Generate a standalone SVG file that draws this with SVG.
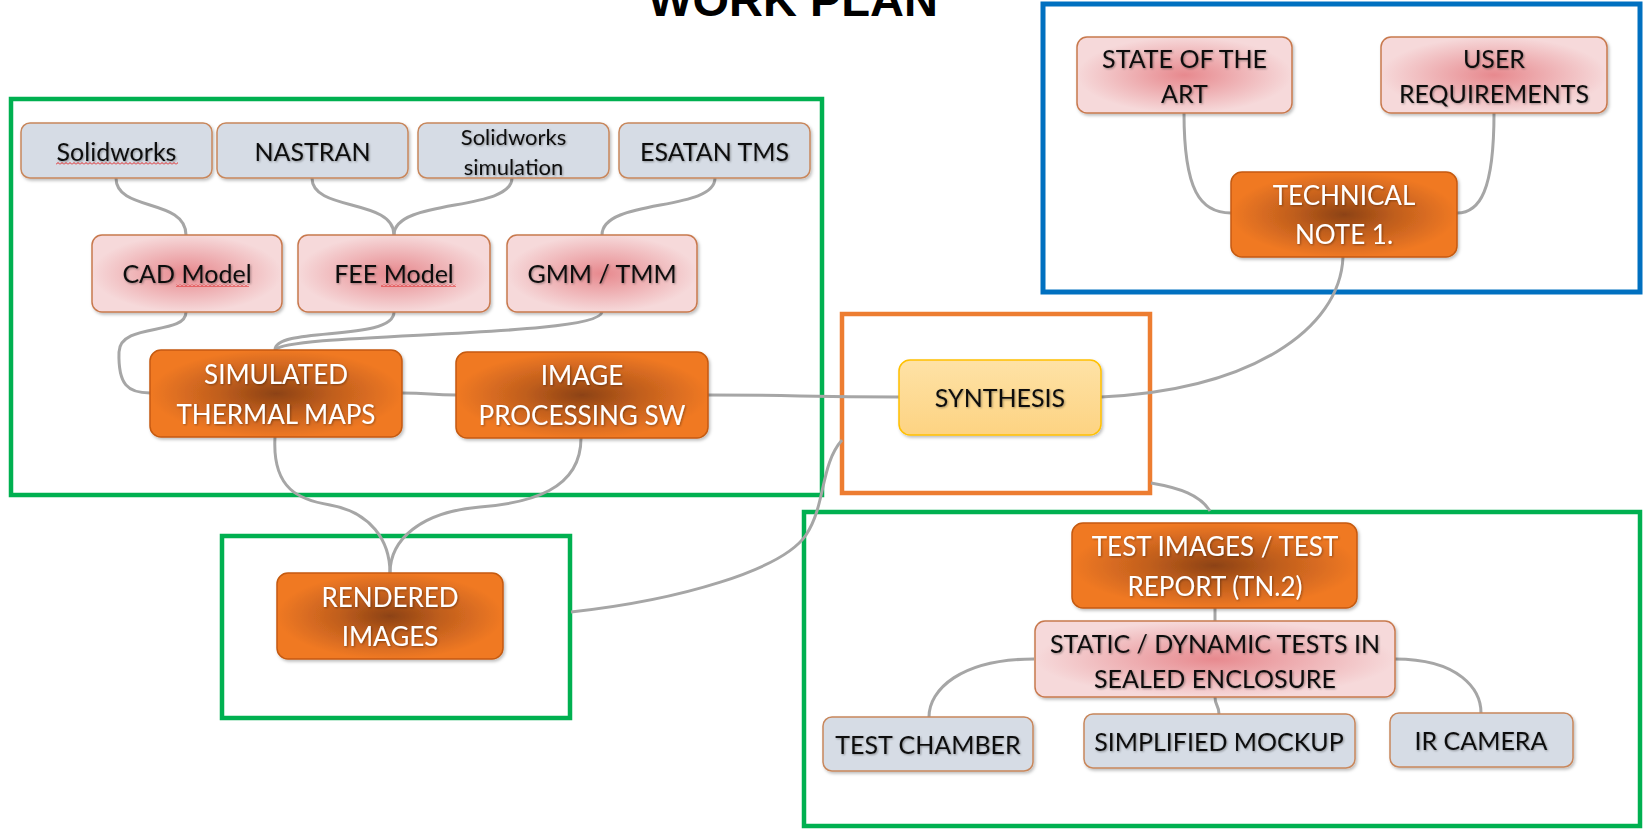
<svg xmlns="http://www.w3.org/2000/svg" width="1644" height="830" viewBox="0 0 1644 830">
  <defs>
    <radialGradient id="gOrange" cx="0.5" cy="0.5" r="0.5">
      <stop offset="0" stop-color="#8c4213"/>
      <stop offset="0.45" stop-color="#c05e1d"/>
      <stop offset="1" stop-color="#f07924"/>
    </radialGradient>
    <radialGradient id="gPink" cx="0.5" cy="0.5" r="0.5">
      <stop offset="0" stop-color="#e7898e"/>
      <stop offset="1" stop-color="#f6d9da"/>
    </radialGradient>
    <linearGradient id="gYellow" x1="0" y1="0" x2="0" y2="1">
      <stop offset="0" stop-color="#fee2a6"/>
      <stop offset="1" stop-color="#fdd382"/>
    </linearGradient>
    <filter id="shadow" x="-10%" y="-10%" width="125%" height="130%">
      <feDropShadow dx="1.5" dy="2" stdDeviation="1.5" flood-color="#000" flood-opacity="0.25"/>
    </filter>
    <filter id="txtShadow" x="-5%" y="-20%" width="115%" height="150%">
      <feDropShadow dx="1" dy="1" stdDeviation="0.8" flood-color="#000" flood-opacity="0.35"/>
    </filter>
    <pattern id="squiggle" width="4" height="3" patternUnits="userSpaceOnUse">
      <path d="M0,2.5 L2,0.5 L4,2.5" fill="none" stroke="#e02020" stroke-width="1"/>
    </pattern>
    <style>
      .frame { fill: none; }
      .green { stroke: #00b050; stroke-width: 4.5; }
      .blue { stroke: #0070c0; stroke-width: 5; }
      .orangeFrame { stroke: #ed7d31; stroke-width: 4.5; }
      .node .box { filter: url(#shadow); }
      .gray .box { fill: #d6dce5; stroke: #c8875c; stroke-width: 1.5; }
      .pink .box { fill: url(#gPink); stroke: #c8794e; stroke-width: 1.5; }
      .orange .box { fill: url(#gOrange); stroke: #c55a11; stroke-width: 1.5; }
      .yellow .box { fill: url(#gYellow); stroke: #ffc000; stroke-width: 1.5; }
      .spell { fill: url(#squiggle); stroke: none; }
      text { font-family: Lato, "Liberation Sans", sans-serif; font-size: 25px; text-anchor: middle; dominant-baseline: central; }
      .gray text, .pink text, .yellow text { fill: #111; filter: url(#txtShadow); }
      .orange text { fill: #fff; font-size: 26px; filter: url(#txtShadow); }
      .small { font-size: 22px; }
      .title { font-family: "Liberation Sans", Arial, sans-serif; font-weight: bold; font-size: 47px; fill: #000; dominant-baseline: alphabetic; }
      .links path { fill: none; stroke: #a6a6a6; stroke-width: 3; }
    </style>
  </defs>

  <rect width="1644" height="830" fill="#fff"/>

  <text class="title" x="793" y="16">WORK PLAN</text>

  <!-- group frames -->
  <g id="frames">
    <rect class="frame green" x="11" y="99" width="811" height="396"/>
    <rect class="frame green" x="222" y="536" width="348" height="182"/>
    <rect class="frame blue" x="1043" y="4" width="597" height="288"/>
    <rect class="frame orangeFrame" x="842" y="314" width="308" height="179"/>
    <rect class="frame green" x="804" y="512" width="836" height="314"/>
  </g>

  <!-- connectors -->
  <g id="connectors" class="links">
    <path d="M116,178 C116,212 186,198 186,235"/>
    <path d="M312,178 C312,212 394,198 394,235"/>
    <path d="M512,178 C512,212 394,198 394,235"/>
    <path d="M715,178 C715,212 602,198 602,235"/>
    <path d="M186,312 C186,336 120,322 119,352 C118,385 128,393 150,393"/>
    <path d="M394,312 C394,342 275,326 275,350"/>
    <path d="M602,312 C598,338 290,332 275,350"/>
    <path d="M402,393 C430,393 430,395 456,395"/>
    <path d="M708,395 C800,395 800,397 899,397"/>
    <path d="M275,437 C272,490 300,500 330,505 C370,512 390,540 390,573"/>
    <path d="M581,438 C581,490 530,503 480,507 C420,512 390,540 390,573"/>
    <path d="M571,612 C680,600 782,570 806,535 C826,505 820,465 842,440"/>
    <path d="M1151,483 C1180,488 1200,495 1210,511"/>
    <path d="M1343,257 C1340,330 1250,390 1101,397"/>
    <path d="M1184,113 C1184,190 1200,213 1231,213"/>
    <path d="M1494,113 C1494,190 1480,213 1457,213"/>
    <path d="M1215,608 L1215,621"/>
    <path d="M1034,659 C960,659 929,690 929,717"/>
    <path d="M1215,697 C1215,706 1219,705 1219,714"/>
    <path d="M1395,659 C1460,659 1481,690 1481,713"/>
  </g>

  <!-- tools row -->
  <g id="solidworks" class="node gray">
    <rect class="box" x="21" y="123" width="191" height="55" rx="9"/>
    <text x="116.5" y="151">Solidworks</text>
    <rect class="spell" x="56" y="162" width="122" height="3"/>
  </g>
  <g id="nastran" class="node gray">
    <rect class="box" x="217" y="123" width="191" height="55" rx="9"/>
    <text x="312.5" y="151">NASTRAN</text>
  </g>
  <g id="solidworks-simulation" class="node gray">
    <rect class="box" x="418" y="123" width="191" height="55" rx="9"/>
    <text class="small" x="513.5" y="136">Solidworks</text>
    <text class="small" x="513.5" y="166">simulation</text>
  </g>
  <g id="esatan-tms" class="node gray">
    <rect class="box" x="619" y="123" width="191" height="55" rx="9"/>
    <text x="714.5" y="151">ESATAN TMS</text>
  </g>

  <!-- model row -->
  <g id="cad-model" class="node pink">
    <rect class="box" x="92" y="235" width="190" height="77" rx="10"/>
    <text x="187" y="273">CAD Model</text>
    <rect class="spell" x="176" y="284" width="73" height="3"/>
  </g>
  <g id="fee-model" class="node pink">
    <rect class="box" x="298" y="235" width="192" height="77" rx="10"/>
    <text x="394" y="273">FEE Model</text>
    <rect class="spell" x="381" y="284" width="75" height="3"/>
  </g>
  <g id="gmm-tmm" class="node pink">
    <rect class="box" x="507" y="235" width="190" height="77" rx="10"/>
    <text x="602" y="273">GMM / TMM</text>
  </g>

  <!-- outputs -->
  <g id="simulated-thermal-maps" class="node orange">
    <rect class="box" x="150" y="350" width="252" height="87" rx="11"/>
    <text x="276" y="374">SIMULATED</text>
    <text x="276" y="414">THERMAL MAPS</text>
  </g>
  <g id="image-processing-sw" class="node orange">
    <rect class="box" x="456" y="352" width="252" height="86" rx="11"/>
    <text x="582" y="375">IMAGE</text>
    <text x="582" y="415">PROCESSING SW</text>
  </g>
  <g id="rendered-images" class="node orange">
    <rect class="box" x="277" y="573" width="226" height="86" rx="11"/>
    <text x="390" y="597">RENDERED</text>
    <text x="390" y="636">IMAGES</text>
  </g>

  <!-- documentation -->
  <g id="state-of-the-art" class="node pink">
    <rect class="box" x="1077" y="37" width="215" height="76" rx="10"/>
    <text x="1184.5" y="58">STATE OF THE</text>
    <text x="1184.5" y="93">ART</text>
  </g>
  <g id="user-requirements" class="node pink">
    <rect class="box" x="1381" y="37" width="226" height="76" rx="10"/>
    <text x="1494" y="58">USER</text>
    <text x="1494" y="93">REQUIREMENTS</text>
  </g>
  <g id="technical-note-1" class="node orange">
    <rect class="box" x="1231" y="172" width="226" height="85" rx="11"/>
    <text x="1344" y="195">TECHNICAL</text>
    <text x="1344" y="234">NOTE 1.</text>
  </g>

  <g id="synthesis" class="node yellow">
    <rect class="box" x="899" y="360" width="202" height="75" rx="11"/>
    <text x="1000" y="397">SYNTHESIS</text>
  </g>

  <!-- testing -->
  <g id="test-images-report" class="node orange">
    <rect class="box" x="1072" y="523" width="285" height="85" rx="11"/>
    <text x="1215" y="546">TEST IMAGES / TEST</text>
    <text x="1215" y="586">REPORT (TN.2)</text>
  </g>
  <g id="static-dynamic-tests" class="node pink">
    <rect class="box" x="1035" y="621" width="360" height="76" rx="10"/>
    <text x="1215" y="643">STATIC / DYNAMIC TESTS IN</text>
    <text x="1215" y="678">SEALED ENCLOSURE</text>
  </g>
  <g id="test-chamber" class="node gray">
    <rect class="box" x="823" y="717" width="210" height="54" rx="9"/>
    <text x="928" y="744">TEST CHAMBER</text>
  </g>
  <g id="simplified-mockup" class="node gray">
    <rect class="box" x="1084" y="714" width="271" height="54" rx="9"/>
    <text x="1219" y="741">SIMPLIFIED MOCKUP</text>
  </g>
  <g id="ir-camera" class="node gray">
    <rect class="box" x="1390" y="713" width="183" height="54" rx="9"/>
    <text x="1481" y="740">IR CAMERA</text>
  </g>
</svg>
